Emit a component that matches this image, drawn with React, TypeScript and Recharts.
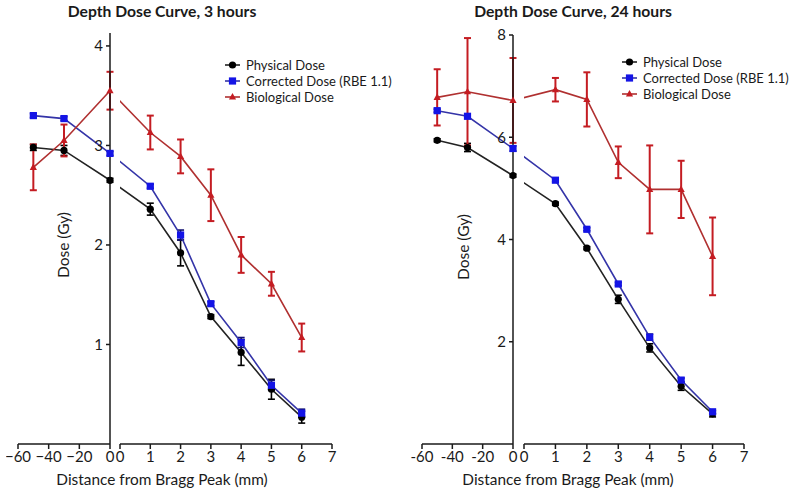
import React from 'react';
import { LineChart, Line, XAxis, YAxis, ErrorBar } from 'recharts';

// distances from the Bragg peak (mm); the x axis is broken after 0
const distances = [-50, -30, 0, 1, 2, 3, 4, 5, 6];
const leftTicks = [-60, -40, -20, 0];
const rightTicks = [0, 1, 2, 3, 4, 5, 6, 7];
const yTicks3h = [1, 2, 3, 4];
const yTicks24h = [2, 4, 6, 8];

// 3 hours
const physical3h = [2.98, 2.95, 2.65, 2.36, 1.92, 1.28, 0.92, 0.55, 0.27];
const physical3hErr = [0.03, 0.05, 0.02, 0.06, 0.13, 0.02, 0.13, 0.1, 0.06];
const corrected3h = [3.3, 3.27, 2.92, 2.59, 2.1, 1.41, 1.02, 0.59, 0.31];
const corrected3hErr = [0.02, 0.02, 0.02, 0.02, 0.05, 0.02, 0.05, 0.05, 0.04];
const biological3h = [2.78, 3.05, 3.55, 3.13, 2.89, 2.5, 1.9, 1.61, 1.07];
const biological3hErr = [0.23, 0.16, 0.19, 0.17, 0.17, 0.26, 0.18, 0.12, 0.14];

// 24 hours
const physical24h = [5.94, 5.8, 5.25, 4.7, 3.83, 2.83, 1.88, 1.13, 0.59];
const physical24hErr = [0.03, 0.08, 0.03, 0.03, 0.03, 0.08, 0.08, 0.08, 0.06];
const corrected24h = [6.52, 6.41, 5.78, 5.16, 4.2, 3.13, 2.09, 1.25, 0.63];
const corrected24hErr = [0.03, 0.03, 0.05, 0.03, 0.03, 0.03, 0.06, 0.04, 0.03];
const biological24h = [6.78, 6.89, 6.72, 6.93, 6.74, 5.51, 4.98, 4.98, 3.67];
const biological24hErr = [0.55, 1.05, 0.83, 0.23, 0.53, 0.31, 0.86, 0.56, 0.76];

interface Row {
  x: number;
  phys: number;
  physErr?: number;
  corr: number;
  corrErr?: number;
  bio: number;
  bioErr?: number;
  bridge?: boolean;
}

const buildRows = (
  phys: number[], physErr: number[],
  corr: number[], corrErr: number[],
  bio: number[], bioErr: number[]
): Row[] =>
  distances.map((x, i) => ({
    x,
    phys: phys[i], physErr: physErr[i],
    corr: corr[i], corrErr: corrErr[i],
    bio: bio[i], bioErr: bioErr[i],
  }));

type Shape = 'circle' | 'square' | 'triangle';

const series: { key: 'phys' | 'corr' | 'bio'; name: string; line: string; mark: string; err: string; shape: Shape }[] = [
  { key: 'phys', name: 'Physical Dose', line: '#222222', mark: '#000000', err: '#000000', shape: 'circle' },
  { key: 'corr', name: 'Corrected Dose (RBE 1.1)', line: '#3434a8', mark: '#1414e6', err: '#101070', shape: 'square' },
  { key: 'bio', name: 'Biological Dose', line: '#b03030', mark: '#c41c22', err: '#c41c22', shape: 'triangle' },
];

const Marker = ({ shape, color, cx, cy }: { shape: Shape; color: string; cx: number; cy: number }) => {
  if (shape === 'circle') return <circle cx={cx} cy={cy} r={3.6} fill={color} />;
  if (shape === 'square') return <rect x={cx - 3.6} y={cy - 3.6} width={7.2} height={7.2} fill={color} />;
  return <path d={`M${cx},${cy - 4} L${cx + 3.6},${cy + 2.6} L${cx - 3.6},${cy + 2.6} Z`} fill={color} />;
};

const renderDot = (shape: Shape, color: string) => (props: any) => {
  const { cx, cy, payload, index } = props;
  if (payload?.bridge || cx == null || cy == null) return <g key={index} />;
  return <g key={index}><Marker shape={shape} color={color} cx={cx} cy={cy} /></g>;
};

const TEXT = '#1a1a1a';
const M = 12; // chart margin around plot
const XAXIS_H = 30;

interface PanelProps {
  title: string;
  rows: Row[];
  yMax: number;
  yTicks: number[];
  minus: string;
  top: number;
  bottom: number;
  leftStart: number;
  leftEnd: number;
  rightStart: number;
  rightEnd: number;
  titleX: number;
  yLabelX: number;
  yLabelY: number;
  xLabelX: number;
  legendX: number;
  legendY: number;
}

const renderSeries = () =>
  series.map(s => (
    <Line
      key={s.key}
      type="linear"
      dataKey={s.key}
      stroke={s.line}
      strokeWidth={1.6}
      dot={renderDot(s.shape, s.mark)}
      activeDot={false}
      isAnimationActive={false}
    >
      <ErrorBar dataKey={`${s.key}Err`} direction="y" width={3.5} stroke={s.err} strokeWidth={s.key === 'bio' ? 2 : 1.6} />
    </Line>
  ));

const Panel: React.FC<PanelProps> = p => {
  const plotH = p.bottom - p.top;
  const leftW = p.leftEnd - p.leftStart;
  const rightW = p.rightEnd - p.rightStart;
  // the segment joining 0 and 1 starts at the 0 point, drawn left of the break
  const gap = (p.rightStart - p.leftEnd) / (rightW / 7);
  const leftRows = p.rows.filter(r => r.x <= 0);
  const zero = p.rows.find(r => r.x === 0) as Row;
  const rightRows: Row[] = [
    { x: -gap, phys: zero.phys, corr: zero.corr, bio: zero.bio, bridge: true },
    ...p.rows.filter(r => r.x > 0),
  ];
  const tick = { fontSize: 15, fill: TEXT };
  const fmt = (v: number) => String(v).replace('-', p.minus);

  return (
    <>
      <div style={{ position: 'absolute', left: p.titleX - 120, width: 240, top: 3, textAlign: 'center', fontWeight: 700, fontSize: 15.7, lineHeight: '16px', color: TEXT }}>
        {p.title}
      </div>
      <div style={{ position: 'absolute', left: p.leftStart - M, top: p.top - M }}>
        <LineChart width={leftW + 2 * M} height={plotH + M + XAXIS_H} data={leftRows} margin={{ top: M, right: M, bottom: 0, left: M }}>
          <XAxis
            dataKey="x"
            type="number"
            domain={[-60, 0]}
            ticks={leftTicks}
            tickFormatter={fmt}
            height={XAXIS_H}
            tickSize={5}
            tickMargin={2}
            tick={tick}
            stroke={TEXT}
            strokeWidth={1.5}
          />
          <YAxis
            orientation="right"
            mirror
            type="number"
            domain={[0, p.yMax]}
            ticks={p.yTicks}
            tickSize={4}
            tickMargin={3}
            tick={tick}
            stroke={TEXT}
            strokeWidth={1.5}
          />
          {renderSeries()}
        </LineChart>
      </div>
      <div style={{ position: 'absolute', left: p.rightStart - M, top: p.top - M }}>
        <LineChart width={rightW + 2 * M} height={plotH + M + XAXIS_H} data={rightRows} margin={{ top: M, right: M, bottom: 0, left: M }}>
          <XAxis
            dataKey="x"
            type="number"
            domain={[0, 7]}
            allowDataOverflow
            ticks={rightTicks}
            height={XAXIS_H}
            tickSize={5}
            tickMargin={2}
            tick={tick}
            stroke={TEXT}
            strokeWidth={1.5}
          />
          <YAxis hide type="number" domain={[0, p.yMax]} allowDataOverflow />
          {renderSeries()}
        </LineChart>
      </div>
      <div style={{ position: 'absolute', left: p.yLabelX, top: p.yLabelY, transform: 'translate(-50%, -50%) rotate(-90deg)', fontSize: 15.5, color: TEXT, whiteSpace: 'nowrap' }}>
        Dose (Gy)
      </div>
      <div style={{ position: 'absolute', left: p.xLabelX, top: 479, transform: 'translate(-50%, -50%)', fontSize: 15.4, color: TEXT, whiteSpace: 'nowrap' }}>
        Distance from Bragg Peak (mm)
      </div>
      <div style={{ position: 'absolute', left: p.legendX, top: p.legendY }}>
        {series.map(s => (
          <div key={s.key} style={{ display: 'flex', alignItems: 'center', height: 16 }}>
            <svg width={15} height={10}>
              <line x1={0} y1={5} x2={15} y2={5} stroke={s.line} strokeWidth={1.6} />
              <Marker shape={s.shape} color={s.mark} cx={7.5} cy={5} />
            </svg>
            <span style={{ marginLeft: 6, fontSize: 13, color: TEXT, whiteSpace: 'nowrap' }}>{s.name}</span>
          </div>
        ))}
      </div>
    </>
  );
};

const rows3h = buildRows(physical3h, physical3hErr, corrected3h, corrected3hErr, biological3h, biological3hErr);
const rows24h = buildRows(physical24h, physical24hErr, corrected24h, corrected24hErr, biological24h, biological24hErr);

export default function App() {
  return (
    <div style={{ position: 'absolute', left: 0, top: 0, width: 793, height: 491, background: '#fff', fontFamily: 'Lato, "Open Sans", sans-serif', overflow: 'hidden' }}>
      <Panel
        title="Depth Dose Curve, 3 hours"
        rows={rows3h}
        yMax={4.13}
        yTicks={yTicks3h}
        minus={'\u2212'}
        top={33}
        bottom={444}
        leftStart={18}
        leftEnd={110}
        rightStart={120}
        rightEnd={332}
        titleX={162}
        yLabelX={63}
        yLabelY={245}
        xLabelX={162}
        legendX={225}
        legendY={57}
      />
      <Panel
        title="Depth Dose Curve, 24 hours"
        rows={rows24h}
        yMax={8}
        yTicks={yTicks24h}
        minus="-"
        top={35}
        bottom={444}
        leftStart={422}
        leftEnd={513}
        rightStart={524}
        rightEnd={744}
        titleX={573}
        yLabelX={463}
        yLabelY={247}
        xLabelX={568}
        legendX={622}
        legendY={54}
      />
    </div>
  );
}
